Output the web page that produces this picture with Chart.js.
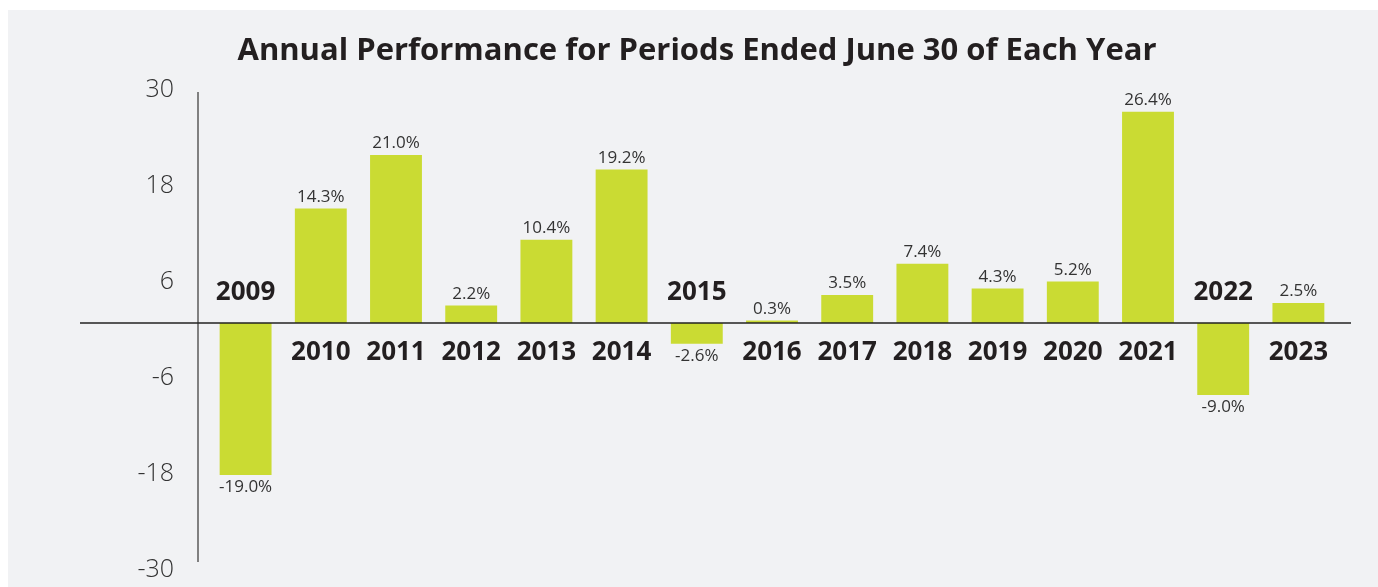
<!DOCTYPE html>
<html>
<head>
<meta charset="utf-8">
<script src="https://cdn.jsdelivr.net/npm/chart.js@4/dist/chart.umd.min.js"></script>
<style>
  html, body { margin: 0; padding: 0; background: #ffffff; }
  #wrap { position: absolute; left: 8px; top: 10px; width: 1370px; height: 577px; background: #f1f2f4; }
  canvas { display: block; }
</style>
</head>
<body>
<div id="wrap"><canvas id="c" width="1370" height="577"></canvas></div>
<script>
const titleText = "Annual Performance for Periods Ended June 30 of Each Year";
const years = ["2009","2010","2011","2012","2013","2014","2015","2016","2017","2018","2019","2020","2021","2022","2023"];
const returns = [-19.0, 14.3, 21.0, 2.2, 10.4, 19.2, -2.6, 0.3, 3.5, 7.4, 4.3, 5.2, 26.4, -9.0, 2.5];
const yTicks = [-30, -18, -6, 6, 18, 30];

const FONT = "'Open Sans', 'Noto Sans', sans-serif";
const BAR = "#cadb33";
const DARK = "#231f20";

const decor = {
  id: 'decor',
  afterDatasetsDraw(chart) {
    const ctx = chart.ctx;
    const area = chart.chartArea;
    const ys = chart.scales.y;
    const meta = chart.getDatasetMeta(0);
    const zeroY = ys.getPixelForValue(0);
    ctx.save();
    // y axis line
    ctx.strokeStyle = "#5a5a5a";
    ctx.lineWidth = 1.5;
    ctx.beginPath();
    ctx.moveTo(area.left - 10, area.top + 9);
    ctx.lineTo(area.left - 10, area.bottom - 1);
    ctx.stroke();
    // zero line
    ctx.strokeStyle = "#222";
    ctx.lineWidth = 1.5;
    ctx.beginPath();
    ctx.moveTo(area.left - 128, zeroY);
    ctx.lineTo(area.right + 15, zeroY);
    ctx.stroke();
    // labels
    meta.data.forEach((bar, i) => {
      const v = returns[i];
      ctx.fillStyle = "#333";
      ctx.font = "17px " + FONT;
      ctx.textAlign = "center";
      if (v >= 0) {
        ctx.textBaseline = "bottom";
        ctx.fillText(v.toFixed(1) + "%", bar.x, bar.y - 3);
      } else {
        ctx.textBaseline = "top";
        ctx.fillText(v.toFixed(1) + "%", bar.x, bar.y + 4);
      }
      ctx.fillStyle = DARK;
      ctx.font = "bold 26px " + FONT;
      ctx.textBaseline = "middle";
      ctx.fillText(years[i], bar.x, v >= 0 ? zeroY + 30 : zeroY - 30);
    });
    // title
    ctx.fillStyle = DARK;
    ctx.font = "bold 31px " + FONT;
    ctx.textAlign = "center";
    ctx.textBaseline = "middle";
    ctx.fillText(titleText, 689, 41);
    ctx.restore();
  }
};

new Chart(document.getElementById('c'), {
  type: 'bar',
  data: {
    labels: years,
    datasets: [{
      data: returns,
      backgroundColor: BAR,
      borderWidth: 0,
      barPercentage: 0.69,
      categoryPercentage: 1.0
    }]
  },
  options: {
    responsive: false,
    animation: false,
    devicePixelRatio: 1,
    layout: { padding: { top: 73, right: 42, bottom: 24, left: 0 } },
    plugins: { legend: { display: false }, tooltip: { enabled: false }, title: { display: false } },
    scales: {
      x: { display: false, grid: { display: false } },
      y: {
        min: -30, max: 30,
        afterBuildTicks(scale) { scale.ticks = yTicks.map(v => ({ value: v })); },
        afterFit(scale) { scale.width = 200; scale.paddingTop = 0; scale.paddingBottom = 0; },
        grid: { display: false, drawTicks: false },
        border: { display: false },
        ticks: { padding: 34, labelOffset: 7, color: "#333", font: { family: FONT, size: 25, weight: 300 } }
      }
    }
  },
  plugins: [decor]
});
</script>
</body>
</html>
